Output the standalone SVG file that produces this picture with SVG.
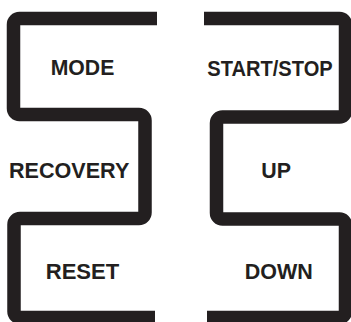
<svg xmlns="http://www.w3.org/2000/svg" width="351" height="322" viewBox="0 0 351 322">
<style>
.frame{fill:none;stroke:#231f20;stroke-width:13.5;stroke-linejoin:round;stroke-linecap:butt}
.lbl{font-family:"Liberation Sans",Arial,sans-serif;font-weight:bold;font-size:22px;fill:#231f20}
</style>
<rect width="351" height="322" fill="#ffffff"/>
<g id="connectors">
<path class="frame" d="M157,18.5 H19.5 A6,6 0 0 0 13.5,24.5 V108.5 A6,6 0 0 0 19.5,114.5 H139 A6,6 0 0 1 145,120.5 V212.5 A6,6 0 0 1 139,218.5 H20 A6,6 0 0 0 14,224.5 V311.5 A6,6 0 0 0 20,317.5 H155"/>
<path class="frame" d="M204,18.5 H339.5 A6,6 0 0 1 345.5,24.5 V111 A6,6 0 0 1 339.5,117 H222.5 A6,6 0 0 0 216.5,123 V213 A6,6 0 0 0 222.5,219 H339.5 A6,6 0 0 1 345.5,225 V311.5 A6,6 0 0 1 339.5,317.5 H207"/>
</g>
<g id="mode"><text class="lbl" x="50.7" y="75" textLength="63.6" lengthAdjust="spacingAndGlyphs">MODE</text></g>
<g id="startstop"><text class="lbl" x="207.3" y="76" textLength="125.4" lengthAdjust="spacingAndGlyphs">START/STOP</text></g>
<g id="recovery"><text class="lbl" x="9" y="177.5" textLength="120.3" lengthAdjust="spacingAndGlyphs">RECOVERY</text></g>
<g id="up"><text class="lbl" x="261.3" y="177.5" textLength="29.7" lengthAdjust="spacingAndGlyphs">UP</text></g>
<g id="reset"><text class="lbl" x="45.7" y="279.3" textLength="73.6" lengthAdjust="spacingAndGlyphs">RESET</text></g>
<g id="down"><text class="lbl" x="244.7" y="279.3" textLength="68" lengthAdjust="spacingAndGlyphs">DOWN</text></g>
</svg>
